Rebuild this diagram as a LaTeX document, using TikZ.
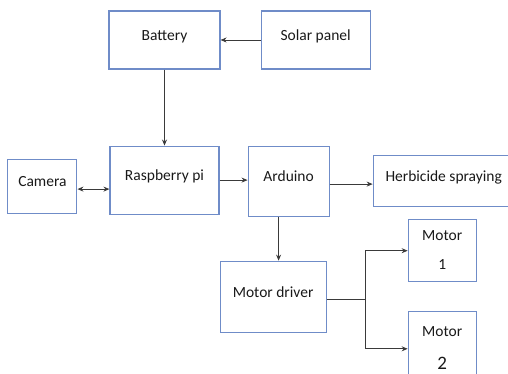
\documentclass[tikz,border=0pt]{standalone}
\usepackage{fontspec}
\setmainfont{Carlito}
\usetikzlibrary{arrows.meta, positioning}

\definecolor{boxblue}{HTML}{6F8CC8}
\definecolor{wiregray}{HTML}{3A3A3A}

\begin{document}
\begin{tikzpicture}[x=1pt, y=1pt, >={Stealth[length=6pt, width=5pt]}, node distance=30pt,
    box/.style={rectangle, draw=boxblue, line width=1.1pt, text=black!90, text centered,
                font=\fontsize{15.5}{17}\selectfont, text depth=9pt, inner sep=0pt},
    wire/.style={draw=wiregray, line width=0.9pt}]

    \clip (0,0) rectangle (508,-374);

    \node[box, minimum width=111pt, minimum height=58pt] (battery) at (164.5,-40) {Battery};
    \node[box, minimum width=109pt, minimum height=58pt, right=40pt of battery] (solar) {Solar panel};
    \node[box, minimum width=109pt, minimum height=68pt, below=76pt of battery] (rpi) {Raspberry pi};
    \node[box, minimum width=69pt, minimum height=54pt, left=32pt of rpi, yshift=-6pt] (camera) {Camera};
    \node[box, minimum width=81pt, minimum height=70pt, right=28pt of rpi.north east, anchor=north west] (arduino) {Arduino};
    \node[box, minimum width=141pt, minimum height=51pt, right=43pt of arduino] (herbicide) {Herbicide spraying};
    \node[box, minimum width=106pt, minimum height=71pt, below=44pt of arduino.south west, anchor=north west, xshift=-28pt] (driver) {Motor driver};
    \node[box, minimum width=68pt, minimum height=62pt, align=center, text depth=2pt, below=12pt of herbicide.south west, anchor=north west, xshift=35pt] (motorone) {Motor\\[12pt]1};
    \node[box, minimum width=68pt, minimum height=74pt, align=center, text depth=2pt, below=29pt of motorone.south, anchor=north] (motortwo) {Motor\\[16pt]{\fontsize{19}{21}\selectfont 2}};

    \coordinate[right=39pt of driver.east, yshift=-3pt] (split);

    \draw[wire, ->] (solar) -- (battery);
    \draw[wire, ->] (battery) -- (rpi);
    \draw[wire, <->] ([yshift=-3pt]camera.east) -- ([yshift=-3pt]camera.east -| rpi.west);
    \draw[wire, ->] (rpi) -- (rpi -| arduino.west);
    \draw[wire, ->] ([yshift=-3pt]arduino.east) -- ([yshift=-3pt]arduino.east -| herbicide.west);
    \draw[wire, ->] ([xshift=-10pt]arduino.south) -- ([xshift=-10pt]arduino.south |- driver.north);
    \draw[wire] (split -| driver.east) -- (split);
    \draw[wire, ->] (split) |- (motorone.west);
    \draw[wire, ->] (split) |- (motortwo.west);
\end{tikzpicture}
\end{document}
